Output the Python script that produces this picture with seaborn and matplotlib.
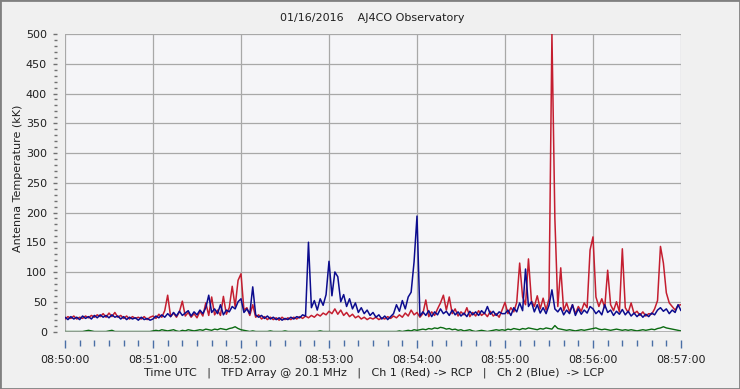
import numpy as np
import pandas as pd
import matplotlib
matplotlib.use("Agg")
import matplotlib.pyplot as plt
import seaborn as sns
from matplotlib.patches import Rectangle
from matplotlib.ticker import MultipleLocator

# samples every 2 s from 08:50:00 to 08:57:00 (values in kK)
step_s = 2
tick_labels = ["08:50:00", "08:51:00", "08:52:00", "08:53:00",
               "08:54:00", "08:55:00", "08:56:00", "08:57:00"]

# Ch 1 (Red) -> RCP, one list per minute
red_m0 = [21, 25, 22, 26, 21, 24, 22, 26, 23, 27,
          24, 28, 25, 30, 24, 31, 25, 32, 24, 27,
          22, 26, 21, 25, 22, 24, 21, 25, 20, 24]
red_m1 = [26, 22, 29, 24, 35, 61, 25, 31, 24, 33,
          51, 26, 32, 24, 30, 23, 34, 26, 48, 27,
          58, 28, 36, 27, 59, 29, 40, 76, 42, 86]
red_m2 = [97, 36, 40, 27, 45, 24, 28, 21, 25, 20,
          24, 20, 23, 19, 24, 20, 23, 20, 24, 21,
          25, 22, 26, 23, 27, 24, 29, 26, 31, 28]
red_m3 = [34, 30, 38, 29, 36, 27, 32, 25, 29, 23,
          26, 21, 24, 20, 23, 21, 24, 20, 23, 21,
          25, 22, 26, 23, 28, 24, 31, 26, 36, 28]
red_m4 = [32, 24, 30, 53, 25, 33, 27, 38, 48, 61,
          36, 58, 30, 38, 26, 33, 28, 40, 25, 32,
          26, 35, 27, 31, 25, 34, 26, 30, 24, 36]
red_m5 = [49, 30, 40, 33, 49, 115, 58, 45, 122, 52,
          42, 60, 38, 56, 36, 55, 500, 190, 42, 107,
          35, 48, 33, 45, 30, 42, 34, 48, 40, 137]
red_m6 = [159, 58, 42, 55, 40, 103, 45, 35, 50, 33,
          139, 40, 32, 48, 30, 34, 27, 33, 26, 30,
          29, 38, 52, 143, 115, 65, 48, 42, 36, 44, 45]

# Ch 2 (Blue) -> LCP
blue_m0 = [24, 20, 25, 21, 24, 20, 26, 22, 25, 21,
           27, 23, 28, 24, 27, 23, 28, 24, 26, 21,
           25, 20, 24, 21, 23, 19, 24, 20, 22, 19]
blue_m1 = [21, 26, 23, 28, 24, 30, 25, 32, 26, 34,
           27, 31, 35, 26, 33, 28, 36, 30, 40, 61,
           32, 38, 30, 45, 28, 36, 33, 42, 38, 50]
blue_m2 = [55, 32, 38, 30, 75, 28, 24, 27, 22, 26,
           21, 24, 20, 23, 19, 22, 20, 24, 21, 25,
           23, 28, 26, 150, 40, 52, 36, 55, 44, 62]
blue_m3 = [118, 60, 100, 92, 50, 62, 42, 55, 38, 48,
           32, 40, 30, 36, 27, 32, 24, 28, 21, 26,
           20, 25, 30, 45, 34, 52, 38, 58, 66, 117]
blue_m4 = [194, 26, 33, 27, 35, 25, 33, 28, 38, 30,
           34, 27, 36, 28, 33, 26, 31, 25, 34, 28,
           33, 27, 35, 30, 42, 29, 34, 27, 33, 30]
blue_m5 = [30, 36, 27, 40, 33, 48, 35, 105, 42, 50,
           33, 45, 31, 40, 30, 44, 70, 38, 33, 40,
           28, 36, 30, 45, 27, 38, 29, 36, 31, 42]
blue_m6 = [38, 30, 35, 28, 45, 32, 36, 27, 34, 29,
           37, 28, 34, 26, 31, 25, 30, 24, 29, 25,
           31, 28, 36, 40, 34, 38, 30, 36, 32, 45, 35]

# third channel (green), near the floor
green_m0 = [0, 0, 0, 0, 0, 0, 0, 1, 2, 1, 0, 0, 0, 0, 0, 1, 2, 0, 0, 0,
            0, 0, 0, 0, 0, 0, 0, 0, 0, 0]
green_m1 = [1, 2, 1, 3, 2, 1, 2, 3, 1, 0, 2, 1, 3, 2, 1, 2, 3, 2, 4, 3,
            2, 4, 3, 5, 4, 3, 5, 6, 8, 5]
green_m2 = [3, 2, 1, 0, 1, 0, 0, 0, 0, 0, 1, 0, 0, 0, 0, 1, 0, 0, 0, 0,
            0, 0, 0, 0, 0, 0, 0, 1, 0, 0]
green_m3 = [0, 0, 0, 0, 0, 0, 0, 0, 0, 0, 0, 0, 0, 0, 0, 0, 0, 0, 0, 0,
            0, 0, 0, 0, 1, 0, 1, 2, 1, 3]
green_m4 = [2, 3, 4, 3, 5, 4, 6, 5, 7, 6, 4, 5, 3, 4, 2, 3, 1, 2, 3, 1,
            0, 1, 2, 1, 0, 1, 2, 3, 2, 3]
green_m5 = [2, 4, 3, 5, 4, 3, 5, 4, 6, 5, 4, 3, 5, 4, 6, 5, 4, 10, 5, 4,
            3, 2, 3, 2, 1, 2, 3, 2, 3, 4]
green_m6 = [5, 6, 4, 3, 4, 3, 2, 3, 4, 3, 2, 3, 2, 3, 2, 1, 2, 3, 2, 3,
            4, 3, 5, 6, 8, 6, 5, 4, 3, 2, 1]

red = red_m0 + red_m1 + red_m2 + red_m3 + red_m4 + red_m5 + red_m6
blue = blue_m0 + blue_m1 + blue_m2 + blue_m3 + blue_m4 + blue_m5 + blue_m6
green = green_m0 + green_m1 + green_m2 + green_m3 + green_m4 + green_m5 + green_m6
seconds = np.arange(len(red)) * step_s

df = pd.DataFrame({"sec": seconds, "rcp": red, "lcp": blue, "ch3": green})

sns.set_style("white")
plt.rcParams["font.family"] = ["DejaVu Sans"]

grid_c = "#a8a8a8"
fig = plt.figure(figsize=(7.4, 3.89), dpi=100, facecolor="#f0f0f0")
ax = fig.add_axes([65 / 740, 57.5 / 389, 616 / 740, 297.5 / 389])
ax.set_facecolor("#f5f5f8")

sns.lineplot(data=df, x="sec", y="ch3", color="#0b6b12", lw=1, estimator=None, ax=ax)
sns.lineplot(data=df, x="sec", y="rcp", color="#c41e30", lw=1.1, estimator=None, ax=ax)
sns.lineplot(data=df, x="sec", y="lcp", color="#0c0c8e", lw=1.1, estimator=None, ax=ax)

ax.set_xlim(0, 420)
ax.set_ylim(0, 500)
ax.set_xticks(np.arange(0, 421, 60))
ax.set_xticklabels(tick_labels)
ax.xaxis.set_minor_locator(MultipleLocator(10))
ax.set_yticks(np.arange(0, 501, 50))
ax.yaxis.set_minor_locator(MultipleLocator(10))
ax.grid(True, which="major", color=grid_c, lw=0.9)
ax.axhline(0, color=grid_c, lw=1.2, zorder=5)
ax.set_xlabel("")
ax.set_ylabel("")

for side in ["top", "right"]:
    ax.spines[side].set_visible(False)
for side in ["left", "bottom"]:
    ax.spines[side].set_position(("outward", 6))
    ax.spines[side].set_visible(False)

ax.tick_params(left=True, bottom=True, which="both")
ax.tick_params(axis="y", which="major", length=3, width=1, color="#707070",
               labelsize=8, pad=4, labelcolor="#202020")
ax.tick_params(axis="y", which="minor", length=2, width=1, color="#707070")
ax.tick_params(axis="x", which="major", length=6, width=1, color="#4a6fa5",
               labelsize=8, pad=5, labelcolor="#202020")
ax.tick_params(axis="x", which="minor", length=4, width=1, color="#4a6fa5")

fig.text(372 / 740, 1 - 18 / 389, "01/16/2016    AJ4CO Observatory",
         ha="center", va="center", fontsize=8, color="#202020")
fig.text(18 / 740, 1 - 178 / 389, "Antenna Temperature (kK)", rotation=90,
         ha="center", va="center", fontsize=8, color="#202020")
fig.text(374 / 740, 1 - 373 / 389,
         "Time UTC   |   TFD Array @ 20.1 MHz   |   Ch 1 (Red) -> RCP   |   Ch 2 (Blue)  -> LCP",
         ha="center", va="center", fontsize=8, color="#202020")

fig.patches.append(Rectangle((0, 0), 1, 1, transform=fig.transFigure, fill=False,
                             edgecolor="#808080", lw=2))

fig.savefig("out.png", dpi=100, facecolor=fig.get_facecolor())
